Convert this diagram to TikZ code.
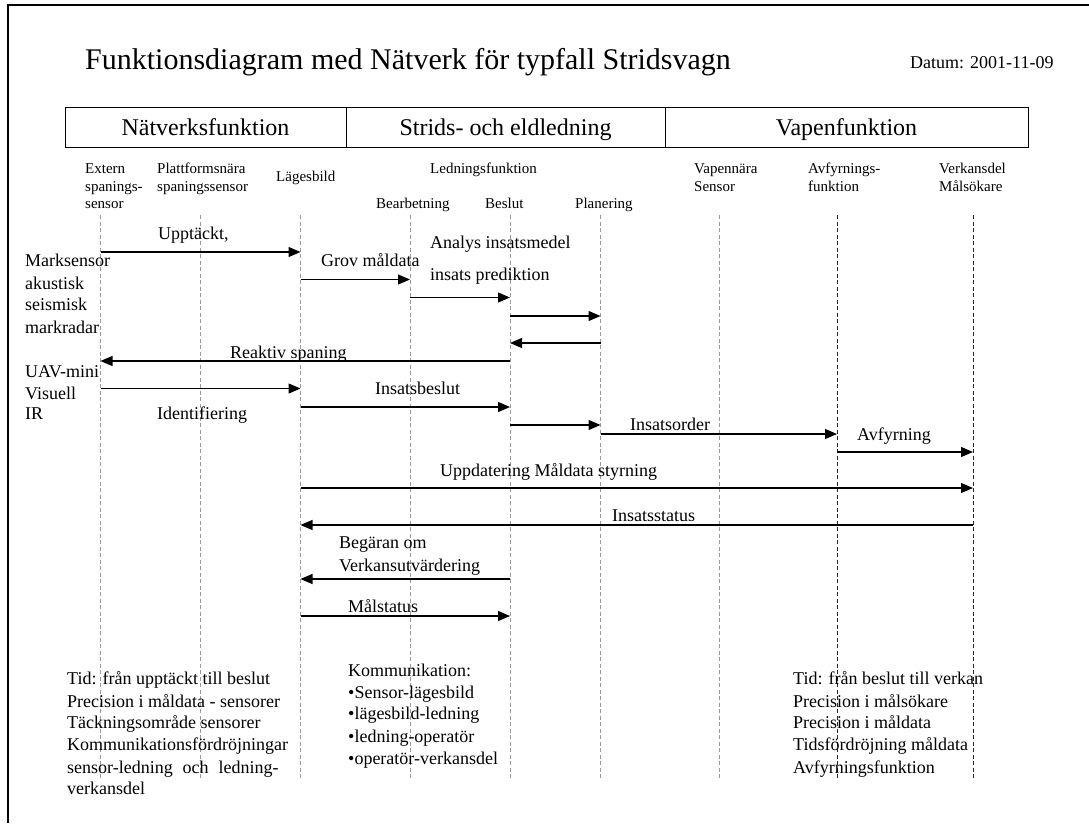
\documentclass[tikz,border=0pt]{standalone}
\usepackage{fontspec}
\setmainfont{Liberation Serif}
\usetikzlibrary{arrows.meta}
\begin{document}
\begin{tikzpicture}[x=1pt,y=-1pt,
  lifeline/.style={gray!80, line width=0.7pt, dash pattern=on 4pt off 2.5pt},
  lifelinedark/.style={black!85, line width=0.7pt, dash pattern=on 4pt off 2.5pt},
  msg/.style={line width=1.2pt, -{Triangle[length=12pt,width=10pt]}},
  lbl/.style={font=\fontsize{18}{22}\selectfont, anchor=base west, inner sep=0pt},
  col/.style={font=\fontsize{15}{17.5}\selectfont, anchor=base west, inner sep=0pt},
  head/.style={font=\fontsize{24}{28}\selectfont, anchor=base, inner sep=0pt},
  frameline/.style={line width=2.5pt}
]
\useasboundingbox (0,0) rectangle (1089,823);

% page frame (top and left edges)
\coordinate (fTL) at (8,5);
\coordinate (fTR) at (1089,5);
\coordinate (fBL) at (8,823);
\draw[frameline] (fBL) -- (fTL) -- (fTR);

% title and date
\node[font=\fontsize{30}{34}\selectfont, anchor=base west, inner sep=0pt] (title) at (85,69)
  {Funktionsdiagram med Nätverk för typfall Stridsvagn};
\node[lbl] (datum) at (910,68) {Datum: 2001-11-09};

% function header band
\coordinate (hA) at (65,107);
\coordinate (hB) at (346,107);
\coordinate (hC) at (665,107);
\coordinate (hD) at (1028,147);
\draw[line width=0.8pt] (hA) rectangle (hD);
\draw[line width=0.8pt] (hB) -- (hB |- hD);
\draw[line width=0.8pt] (hC) -- (hC |- hD);
\node[head] (hnet) at (205.5,135) {Nätverksfunktion};
\node[head] (hled) at (505.5,135) {Strids- och eldledning};
\node[head] (hvap) at (846.5,135) {Vapenfunktion};

% column headings
\node[col] (c1a) at (85,173) {Extern};
\node[col] (c1b) at (85,191) {spanings-};
\node[col] (c1c) at (85,208) {sensor};
\node[col] (c2a) at (157,173) {Plattformsnära};
\node[col] (c2b) at (157,191) {spaningssensor};
\node[col] (c3)  at (276,181) {Lägesbild};
\node[col] (cled) at (430,173) {Ledningsfunktion};
\node[col] (c4) at (376,208) {Bearbetning};
\node[col] (c5) at (485,208) {Beslut};
\node[col] (c6) at (575,208) {Planering};
\node[col] (c7a) at (694,173) {Vapennära};
\node[col] (c7b) at (694,191) {Sensor};
\node[col] (c8a) at (808,173) {Avfyrnings-};
\node[col] (c8b) at (808,191) {funktion};
\node[col] (c9a) at (939,173) {Verkansdel};
\node[col] (c9b) at (939,191) {Målsökare};

% lifelines
\coordinate (ext)  at (100.5,215);
\coordinate (plat) at (200.5,215);
\coordinate (lage) at (300.5,215);
\coordinate (bear) at (410,215);
\coordinate (besl) at (510,215);
\coordinate (plan) at (600.5,215);
\coordinate (vap)  at (719,215);
\coordinate (avf)  at (837,215);
\coordinate (verk) at (973,215);
\coordinate (bot)  at (0,780);
\foreach \l in {ext,plat,lage,bear,besl,plan,vap}
  \draw[lifeline] (\l) -- (\l |- bot);
\foreach \l in {avf,verk}
  \draw[lifelinedark] (\l) -- (\l |- bot);

% message rows
\coordinate (r1)  at (0,252);
\coordinate (r2)  at (0,279.5);
\coordinate (r3)  at (0,297.5);
\coordinate (r4)  at (0,316);
\coordinate (r5)  at (0,343);
\coordinate (r6)  at (0,361);
\coordinate (r7)  at (0,388.5);
\coordinate (r8)  at (0,407);
\coordinate (r9)  at (0,425);
\coordinate (r10) at (0,434);
\coordinate (r11) at (0,452);
\coordinate (r12) at (0,488);
\coordinate (r13) at (0,525);
\coordinate (r14) at (0,579);
\coordinate (r15) at (0,616);

\draw[msg] (ext |- r1)  -- (lage |- r1);
\draw[msg] (lage |- r2) -- (bear |- r2);
\draw[msg] (bear |- r3) -- (besl |- r3);
\draw[msg] (besl |- r4) -- (plan |- r4);
\draw[msg] (plan |- r5) -- (besl |- r5);
\draw[msg] (besl |- r6) -- (ext |- r6);
\draw[msg] (ext |- r7)  -- (lage |- r7);
\draw[msg] (lage |- r8) -- (besl |- r8);
\draw[msg] (besl |- r9) -- (plan |- r9);
\draw[msg] (plan |- r10) -- (avf |- r10);
\draw[msg] (avf |- r11) -- (verk |- r11);
\draw[msg] (lage |- r12) -- (verk |- r12);
\draw[msg] (verk |- r13) -- (lage |- r13);
\draw[msg] (besl |- r14) -- (lage |- r14);
\draw[msg] (lage |- r15) -- (besl |- r15);

% message labels
\node[lbl] (m1)  at (158,239) {Upptäckt,};
\node[lbl] (m2)  at (321,266) {Grov måldata};
\node[lbl] (m3a) at (430,248) {Analys insatsmedel};
\node[lbl] (m3b) at (430,280) {insats prediktion};
\node[lbl] (m6)  at (230,358) {Reaktiv spaning};
\node[lbl] (m7)  at (157,419) {Identifiering};
\node[lbl] (m8)  at (375,394) {Insatsbeslut};
\node[lbl] (m10) at (630,430) {Insatsorder};
\node[lbl] (m11) at (857,440) {Avfyrning};
\node[lbl] (m12) at (440,476) {Uppdatering Måldata styrning};
\node[lbl] (m13) at (612,521) {Insatsstatus};
\node[lbl] (m14a) at (339,548) {Begäran om};
\node[lbl] (m14b) at (339,571) {Verkansutvärdering};
\node[lbl] (m15) at (348,612) {Målstatus};

% sensor lists
\node[lbl] (s1) at (25,266) {Marksensor};
\node[lbl] (s2) at (25,289) {akustisk};
\node[lbl] (s3) at (25,310) {seismisk};
\node[lbl] (s4) at (25,333) {markradar};
\node[lbl] (u1) at (25,377) {UAV-mini};
\node[lbl] (u2) at (25,399) {Visuell};
\node[lbl] (u3) at (25,419) {IR};

% notes
\node[lbl] (n1) at (67,684) {Tid: från upptäckt till beslut};
\node[lbl] (n2) at (67,707) {Precision i måldata - sensorer};
\node[lbl] (n3) at (67,728) {Täckningsområde sensorer};
\node[lbl] (n4) at (67,750) {Kommunikationsfördröjningar};
\node[lbl] (n5) at (67,773) {sensor-ledning\hspace{0.3em} och\hspace{0.3em} ledning-};
\node[lbl] (n6) at (67,794) {verkansdel};

\node[lbl] (k0) at (348,676) {Kommunikation:};
\node[lbl] (k1) at (348,698) {•Sensor-lägesbild};
\node[lbl] (k2) at (348,719) {•lägesbild-ledning};
\node[lbl] (k3) at (348,742) {•ledning-operatör};
\node[lbl] (k4) at (348,764) {•operatör-verkansdel};

\node[lbl] (v1) at (793,684) {Tid: från beslut till verkan};
\node[lbl] (v2) at (793,707) {Precision i målsökare};
\node[lbl] (v3) at (793,728) {Precision i måldata};
\node[lbl] (v4) at (793,750) {Tidsfördröjning måldata};
\node[lbl] (v5) at (793,773) {Avfyrningsfunktion};
\end{tikzpicture}
\end{document}
